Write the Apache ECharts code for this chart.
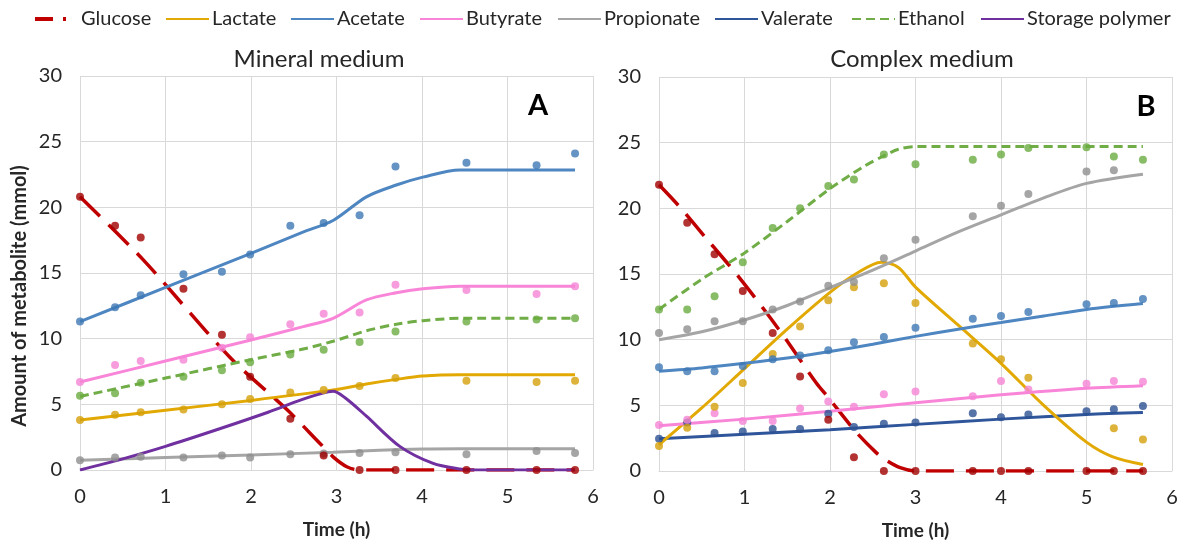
<!DOCTYPE html>
<html>
<head>
<meta charset="utf-8">
<script src="https://cdn.jsdelivr.net/npm/echarts@6/dist/echarts.min.js"></script>
<style>
  html, body { margin: 0; padding: 0; background: #ffffff; }
  #chart { width: 1195px; height: 548px; }
</style>
</head>
<body>
<div id="chart"></div>
<script>
// ---- Tick labels ----
const xTicks = [0, 1, 2, 3, 4, 5, 6];
const yTicks = [0, 5, 10, 15, 20, 25, 30];
const panelTitles = ['Mineral medium', 'Complex medium'];
const panelLetters = ['A', 'B'];
const yAxisTitle = 'Amount of metabolite (mmol)';
const xAxisTitle = 'Time (h)';
const metabolites = ['Glucose', 'Lactate', 'Acetate', 'Butyrate', 'Propionate', 'Valerate', 'Ethanol', 'Storage polymer'];

// ---- Panel A: mineral medium, measured (mmol) ----
const timeA = [0, 0.41, 0.71, 1.21, 1.66, 1.99, 2.46, 2.85, 3.27, 3.69, 4.52, 5.34, 5.79];
const glucoseA    = [20.8, 18.6, 17.7, 13.8, 10.3, 7.1, 3.9, 1.1, 0, 0, 0, 0, 0];
const lactateA    = [3.8, 4.2, 4.4, 4.6, 5.0, 5.4, 5.9, 6.1, 6.4, 7.0, 6.8, 6.7, 6.8];
const acetateA    = [11.3, 12.4, 13.3, 14.9, 15.1, 16.4, 18.6, 18.8, 19.4, 23.1, 23.4, 23.2, 24.1];
const butyrateA   = [6.7, 8.0, 8.3, 8.4, 9.3, 10.1, 11.1, 11.9, 12.0, 14.1, 13.7, 13.4, 14.0];
const propionateA = [0.75, 0.95, 1.0, 0.95, 1.1, 0.95, 1.2, 1.25, 1.3, 1.35, 1.2, 1.45, 1.3];
const ethanolA    = [5.65, 5.85, 6.65, 7.1, 7.6, 8.2, 8.8, 9.15, 9.75, 10.55, 11.3, 11.45, 11.55];

// ---- Panel A: model curves [time, mmol] ----
const glucoseFitA    = [[0, 20.8], [0.74, 16.0], [1.75, 8.6], [2.42, 4.6], [2.81, 2.0], [2.96, 1.0], [3.12, 0.25], [3.27, 0], [3.6, 0], [5.79, 0]];
const lactateFitA    = [[0, 3.8], [1, 4.55], [2, 5.3], [2.96, 6.1], [3.35, 6.55], [3.7, 6.9], [4.01, 7.15], [4.44, 7.25], [5.79, 7.25]];
const acetateFitA    = [[0, 11.3], [1, 13.9], [2, 16.5], [2.6, 18.1], [2.96, 19.0], [3.35, 20.8], [3.7, 21.7], [4.01, 22.3], [4.44, 22.85], [5.79, 22.85]];
const butyrateFitA   = [[0, 6.7], [1, 8.3], [2, 9.9], [2.6, 10.9], [2.96, 11.55], [3.35, 12.95], [3.7, 13.5], [4.01, 13.8], [4.44, 14.0], [5.79, 14.0]];
const propionateFitA = [[0, 0.75], [1, 0.95], [2, 1.15], [2.96, 1.35], [3.5, 1.5], [4.01, 1.6], [4.44, 1.62], [5.79, 1.62]];
const ethanolFitA    = [[0, 5.6], [1, 7.0], [2, 8.4], [2.57, 9.15], [2.96, 9.8], [3.35, 10.6], [3.7, 11.1], [4.01, 11.37], [4.44, 11.55], [5.79, 11.55]];
const storageFitA    = [[0, 0], [0.5, 0.85], [1, 1.8], [1.66, 3.2], [2.2, 4.4], [2.57, 5.3], [2.81, 5.8], [2.96, 6.0], [3.1, 5.5], [3.35, 4.1], [3.74, 1.8], [4.13, 0.5], [4.44, 0.08], [4.6, 0], [4.9, 0], [5.79, 0]];

// ---- Panel B: complex medium, measured (mmol) ----
const timeB = [0, 0.33, 0.65, 0.98, 1.33, 1.65, 1.98, 2.28, 2.63, 3.0, 3.67, 4.0, 4.32, 5.0, 5.32, 5.66];
const glucoseB    = [21.8, 18.9, 16.5, 13.7, 10.5, 7.2, 3.9, 1.05, 0, 0, 0, 0, 0, 0, 0, 0];
const lactateB    = [1.9, 3.3, 4.9, 6.7, 8.9, 11.0, 13.0, 14.0, 14.3, 12.8, 9.7, 8.5, 7.1, null, 3.25, 2.4];
const acetateB    = [7.9, 7.6, 7.6, 8.0, 8.5, 8.8, 9.2, 9.8, 10.2, 10.9, 11.6, 11.8, 12.1, 12.7, 12.8, 13.1];
const butyrateB   = [3.5, 3.9, 4.4, 3.8, 3.8, 4.75, 5.3, 4.9, 5.85, 6.05, 5.7, 6.85, 6.2, 6.65, 6.85, 6.8];
const propionateB = [10.5, 10.8, 11.4, 11.4, 12.3, 12.9, 14.1, 14.4, 16.2, 17.6, 19.4, 20.2, 21.1, 22.8, 22.9, null];
const valerateB   = [2.45, 3.7, 2.9, 3.0, 3.2, 3.2, 4.35, 3.35, 3.6, 3.7, 4.4, 4.1, 4.3, 4.55, 4.7, 4.95];
const ethanolB    = [12.3, 12.3, 13.3, 15.9, 18.5, 20.0, 21.7, 22.2, 24.1, 23.35, 23.7, 24.1, 24.6, 24.65, 23.95, 23.7];

// ---- Panel B: model curves [time, mmol] ----
const glucoseFitB    = [[0, 21.8], [0.23, 20.2], [0.58, 17.5], [0.93, 14.8], [1.4, 10.8], [1.84, 6.7], [1.98, 5.6], [2.3, 3.0], [2.54, 1.4], [2.66, 0.8], [2.82, 0.25], [3.0, 0], [3.3, 0], [5.66, 0]];
const lactateFitB    = [[0, 2.0], [0.5, 4.8], [1, 7.8], [1.5, 10.8], [2, 13.6], [2.3, 15.0], [2.6, 15.9], [2.8, 15.5], [3.0, 14.0], [3.5, 11.1], [4.0, 8.2], [4.5, 5.0], [5.0, 2.2], [5.3, 1.1], [5.66, 0.5]];
const acetateFitB    = [[0, 7.6], [0.5, 7.85], [1, 8.2], [1.5, 8.6], [2, 9.1], [2.5, 9.65], [3, 10.25], [3.5, 10.8], [4, 11.3], [4.5, 11.8], [5, 12.3], [5.66, 12.75]];
const butyrateFitB   = [[0, 3.45], [1, 3.95], [2, 4.55], [3, 5.2], [4, 5.8], [5, 6.3], [5.66, 6.5]];
const propionateFitB = [[0, 10.0], [0.5, 10.6], [1, 11.5], [1.5, 12.6], [2, 13.95], [2.5, 15.3], [3, 16.75], [3.5, 18.2], [4, 19.5], [4.5, 20.8], [5, 21.9], [5.66, 22.6]];
const valerateFitB   = [[0, 2.45], [1, 2.8], [2, 3.15], [3, 3.55], [4, 3.95], [5, 4.3], [5.66, 4.45]];
const ethanolFitB    = [[0, 12.3], [0.5, 14.6], [1, 16.6], [1.5, 19.0], [2, 21.5], [2.4, 23.2], [2.63, 24.0], [2.8, 24.5], [3.0, 24.7], [3.4, 24.7], [5.66, 24.7]];

// ---- Styling ----
const FONT = 'Lato, "Open Sans", "Noto Sans", sans-serif';
const TEXT = '#262626';
const GRID_LINE = '#D9D9D9';
const lineColor = {
  'Glucose': '#C00000', 'Lactate': '#E2A904', 'Acetate': '#4E86C1', 'Butyrate': '#F885D8',
  'Propionate': '#A5A5A5', 'Valerate': '#2F559A', 'Ethanol': '#70AD47', 'Storage polymer': '#7030A0'
};
const dotColor = {
  'Glucose': '#A00000', 'Lactate': '#D4A00A', 'Acetate': '#3F78B4', 'Butyrate': '#F585D6',
  'Propionate': '#8E8E8E', 'Valerate': '#2C5192', 'Ethanol': '#6AAB40'
};
const dashFor = {
  'Glucose': [28, 12],
  'Ethanol': [9, 5]
};
// left edge of each legend entry (px)
const legendLeft = [28, 160, 285, 414, 552, 709, 846, 975];

function fitSeries(name, data, panel) {
  return {
    type: 'line', name: name, data: data,
    xAxisIndex: panel, yAxisIndex: panel,
    smooth: 0.3,
    symbol: 'none', showSymbol: false,
    color: lineColor[name],
    lineStyle: { width: name === 'Glucose' ? 3.5 : 3, color: lineColor[name], type: dashFor[name] || 'solid', cap: 'butt' },
    z: 2, silent: true
  };
}
function measuredSeries(name, times, values, panel) {
  const pts = [];
  times.forEach((t, i) => { if (values[i] !== null) pts.push([t, values[i]]); });
  return {
    type: 'scatter', name: name + ' (measured)', data: pts,
    xAxisIndex: panel, yAxisIndex: panel,
    symbol: 'circle', symbolSize: 8,
    itemStyle: { color: dotColor[name] },
    z: 3, silent: true
  };
}

const series = [
  fitSeries('Glucose', glucoseFitA, 0),
  fitSeries('Lactate', lactateFitA, 0),
  fitSeries('Acetate', acetateFitA, 0),
  fitSeries('Butyrate', butyrateFitA, 0),
  fitSeries('Propionate', propionateFitA, 0),
  fitSeries('Ethanol', ethanolFitA, 0),
  fitSeries('Storage polymer', storageFitA, 0),
  fitSeries('Valerate', valerateFitB, 1),
  fitSeries('Glucose', glucoseFitB, 1),
  fitSeries('Lactate', lactateFitB, 1),
  fitSeries('Acetate', acetateFitB, 1),
  fitSeries('Butyrate', butyrateFitB, 1),
  fitSeries('Propionate', propionateFitB, 1),
  fitSeries('Ethanol', ethanolFitB, 1),

  measuredSeries('Propionate', timeA, propionateA, 0),
  measuredSeries('Lactate', timeA, lactateA, 0),
  measuredSeries('Ethanol', timeA, ethanolA, 0),
  measuredSeries('Butyrate', timeA, butyrateA, 0),
  measuredSeries('Acetate', timeA, acetateA, 0),
  measuredSeries('Glucose', timeA, glucoseA, 0),

  measuredSeries('Valerate', timeB, valerateB, 1),
  measuredSeries('Butyrate', timeB, butyrateB, 1),
  measuredSeries('Lactate', timeB, lactateB, 1),
  measuredSeries('Acetate', timeB, acetateB, 1),
  measuredSeries('Propionate', timeB, propionateB, 1),
  measuredSeries('Ethanol', timeB, ethanolB, 1),
  measuredSeries('Glucose', timeB, glucoseB, 1)
];

function xAxis(panel) {
  return {
    type: 'value', gridIndex: panel,
    min: xTicks[0], max: xTicks[xTicks.length - 1], interval: 1,
    name: xAxisTitle, nameLocation: 'middle', nameGap: 50,
    nameTextStyle: { fontFamily: FONT, fontSize: 19, fontWeight: 'bold', color: TEXT },
    axisLine: { show: true, lineStyle: { color: GRID_LINE, width: 1 } },
    axisTick: { show: false },
    axisLabel: { fontFamily: FONT, fontSize: 20, color: TEXT, margin: 17 },
    splitLine: { show: true, lineStyle: { color: GRID_LINE, width: 1 } }
  };
}
function yAxis(panel) {
  return {
    type: 'value', gridIndex: panel,
    min: yTicks[0], max: yTicks[yTicks.length - 1], interval: 5,
    axisLine: { show: false },
    axisTick: { show: false },
    axisLabel: { fontFamily: FONT, fontSize: 20, color: TEXT, margin: 18 },
    splitLine: { show: true, lineStyle: { color: GRID_LINE, width: 1 } }
  };
}

// one legend block per metabolite so each entry sits at its own offset
const legends = metabolites.map((name, i) => {
  const item = { name: name };
  if (name === 'Glucose') item.lineStyle = { type: [18, 10, 3, 40], width: 4 };
  return {
    data: [item],
    top: 4, left: legendLeft[i],
    itemWidth: 43, itemHeight: 14,
    itemStyle: { opacity: 0, borderWidth: 0 },
    textStyle: { fontFamily: FONT, fontSize: 20, color: TEXT, padding: [0, 0, 0, -2] },
    selectedMode: false
  };
});

const option = {
  backgroundColor: '#ffffff',
  animation: false,
  legend: legends,
  title: [
    { text: panelTitles[0], left: 314, top: 42, textAlign: 'center',
      textStyle: { fontFamily: FONT, fontSize: 24, fontWeight: 'normal', color: TEXT } },
    { text: panelTitles[1], left: 917, top: 42, textAlign: 'center',
      textStyle: { fontFamily: FONT, fontSize: 24, fontWeight: 'normal', color: TEXT } },
    { text: panelLetters[0], left: 533, top: 86, textAlign: 'center',
      textStyle: { fontFamily: FONT, fontSize: 29, fontWeight: 'bold', color: '#000000' } },
    { text: panelLetters[1], left: 1141, top: 87, textAlign: 'center',
      textStyle: { fontFamily: FONT, fontSize: 29, fontWeight: 'bold', color: '#000000' } }
  ],
  graphic: [
    { type: 'text', x: 20, y: 296, rotation: Math.PI / 2,
      style: { text: yAxisTitle, fontFamily: FONT, fontSize: 20, fontWeight: 'bold', fill: TEXT,
               align: 'center', verticalAlign: 'middle' } }
  ],
  grid: [
    { left: 80, right: 602, top: 76, bottom: 78 },
    { left: 659, right: 23, top: 77, bottom: 77 }
  ],
  xAxis: [xAxis(0), xAxis(1)],
  yAxis: [yAxis(0), yAxis(1)],
  series: series
};

const chart = echarts.init(document.getElementById('chart'), null, { renderer: 'canvas' });
chart.setOption(option);
</script>
</body>
</html>
